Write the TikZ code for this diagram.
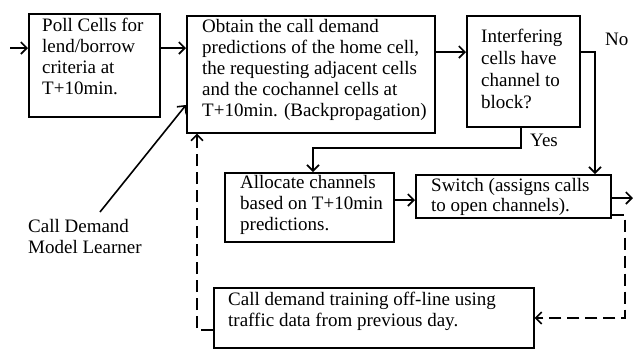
\documentclass[tikz,border=0pt]{standalone}
\usepackage{fontspec}
\setmainfont{Liberation Serif}
\usetikzlibrary{arrows.meta}
\tikzset{
  box/.style={draw, line width=1.6pt, inner sep=0pt, anchor=north west},
  txt/.style={anchor=north west, align=left, inner sep=0pt, font=\fontsize{19}{21}\selectfont},
  conn/.style={line width=1.6pt, -{Straight Barb[length=6pt,width=12pt,line width=1.6pt]}},
  plain/.style={line width=1.6pt},
  dashconn/.style={conn, dash pattern=on 12pt off 6pt},
  dashline/.style={plain, dash pattern=on 12pt off 6pt}
}
\begin{document}
\begin{tikzpicture}[x=1pt,y=-1pt]
\useasboundingbox (0,0) rectangle (633,349);
% boxes
\node[box, minimum width=131pt, minimum height=103pt] (poll) at (28,13) {};
\node[box, minimum width=248pt, minimum height=117pt] (obtain) at (186,15) {};
\node[box, minimum width=113pt, minimum height=111pt] (interf) at (466,15) {};
\node[box, minimum width=169pt, minimum height=69pt] (alloc) at (224,172) {};
\node[box, minimum width=195pt, minimum height=43pt] (switch) at (415,174) {};
\node[box, minimum width=320pt, minimum height=60pt] (train) at (213,287) {};
% texts
\node[txt] (tpoll) at (42,18) {Poll Cells for\\lend/borrow\\criteria at\\T+10min.};
\node[txt] (tobtain) at (202,19) {Obtain the call demand\\predictions of the home cell,\\the requesting adjacent cells\\and the cochannel cells at\\T+10min. (Backpropagation)};
\node[txt, font=\fontsize{19}{22}\selectfont] (tinterf) at (481,29) {Interfering\\cells have\\channel to\\block?};
\node[txt] (talloc) at (240,175) {Allocate channels\\based on T+10min\\predictions.};
\node[txt, font=\fontsize{19}{20}\selectfont] (tswitch) at (431,178) {Switch (assigns calls\\to open channels).};
\node[txt] (ttrain) at (228,292) {Call demand training off-line using\\traffic data from previous day.};
\node[txt] (learner) at (28,219) {Call Demand\\Model Learner};
\node[txt] (no) at (605,33) {No};
\node[txt] (yes) at (530,134) {Yes};
% coordinates
\coordinate (in) at (10,48);
\coordinate (out) at (633,198);
\coordinate (lrn) at (100,212);
% connectors
\draw[conn] (in) -- (in -| poll.west);
\draw[conn] (poll.east |- 0,48) -- (obtain.west |- 0,48);
\draw[conn] (obtain.east |- 0,52) -- (interf.west |- 0,52);
\draw[conn] (interf.east |- 0,52) -- (595,52) -- (595,0 |- switch.north);
\draw[conn] (521,0 |- interf.south) -- (521,148) -- (313,148) -- (313,0 |- alloc.north);
\draw[conn] (alloc.east |- 0,200) -- (switch.west |- 0,200);
\draw[conn] (switch.east |- out) -- (out);
\draw[conn] (lrn) -- (obtain.west |- 0,105);
\draw[dashconn] (switch.east |- 0,215) -- (625,215) -- (625,318) -- (train.east |- 0,318);
\draw[dashconn] (train.west |- 0,330) -- (197,330) -- (197,0 |- obtain.south);
\end{tikzpicture}
\end{document}
